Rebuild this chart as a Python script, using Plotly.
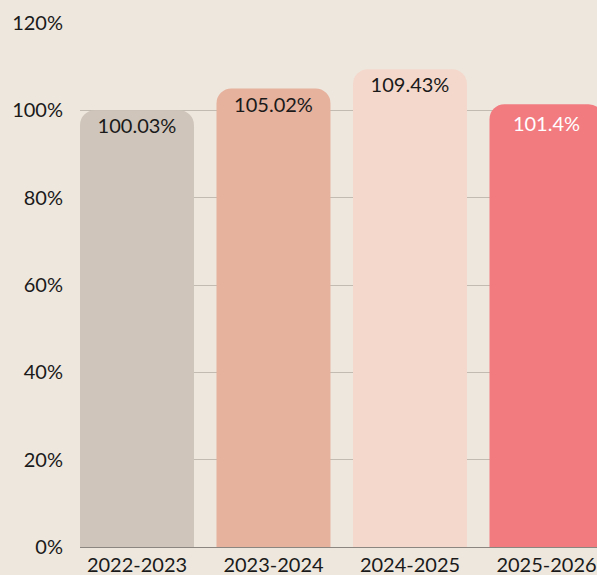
import plotly.graph_objects as go

categories = ["2022-2023", "2023-2024", "2024-2025", "2025-2026"]
values = [100.03, 105.02, 109.43, 101.4]
labels = ["100.03%", "105.02%", "109.43%", "101.4%"]
bar_colors = ["#CFC5BA", "#E6B19D", "#F4D8CC", "#F27B80"]
text_colors = ["#1a1a1a", "#1a1a1a", "#1a1a1a", "#FFFFFF"]
y_ticks = [0, 20, 40, 60, 80, 100, 120]
y_tick_labels = ["0%", "20%", "40%", "60%", "80%", "100%", "120%"]

FONT = "Lato, 'Noto Sans', sans-serif"
FS = 20

fig = go.Figure(go.Bar(
    x=list(range(len(categories))),
    y=values,
    text=labels,
    textposition="inside",
    insidetextanchor="end",
    textangle=0,
    textfont=dict(family=FONT, size=FS, color=text_colors),
    marker=dict(color=bar_colors, line=dict(width=0)),
    cliponaxis=True,
    hoverinfo="skip",
))

fig.update_layout(
    width=597, height=575,
    margin=dict(l=80, r=0, t=23, b=28),
    paper_bgcolor="#EEE7DD",
    plot_bgcolor="#EEE7DD",
    bargap=0.165,
    barcornerradius=15,
    showlegend=False,
    font=dict(family=FONT, size=FS, color="#1a1a1a"),
    xaxis=dict(
        tickmode="array",
        tickvals=list(range(len(categories))),
        ticktext=categories,
        range=[-0.4175, 3.37],
        showgrid=False,
        zeroline=False,
        showline=False,
        ticks="",
        ticklabelstandoff=4,
        tickfont=dict(family=FONT, size=FS, color="#1a1a1a"),
    ),
    yaxis=dict(
        range=[0, 120],
        tickmode="array",
        tickvals=y_ticks,
        ticktext=y_tick_labels,
        showgrid=True,
        gridcolor="#C2BBB1",
        gridwidth=1,
        zeroline=True,
        zerolinecolor="#8C8680",
        zerolinewidth=1,
        showline=False,
        ticks="",
        ticklabelstandoff=16,
        tickfont=dict(family=FONT, size=FS, color="#1a1a1a"),
    ),
)

fig.write_html(
    "out.html",
    config={"displayModeBar": False, "staticPlot": True},
    post_script="document.body.style.margin='0';document.body.style.overflow='hidden';",
)
